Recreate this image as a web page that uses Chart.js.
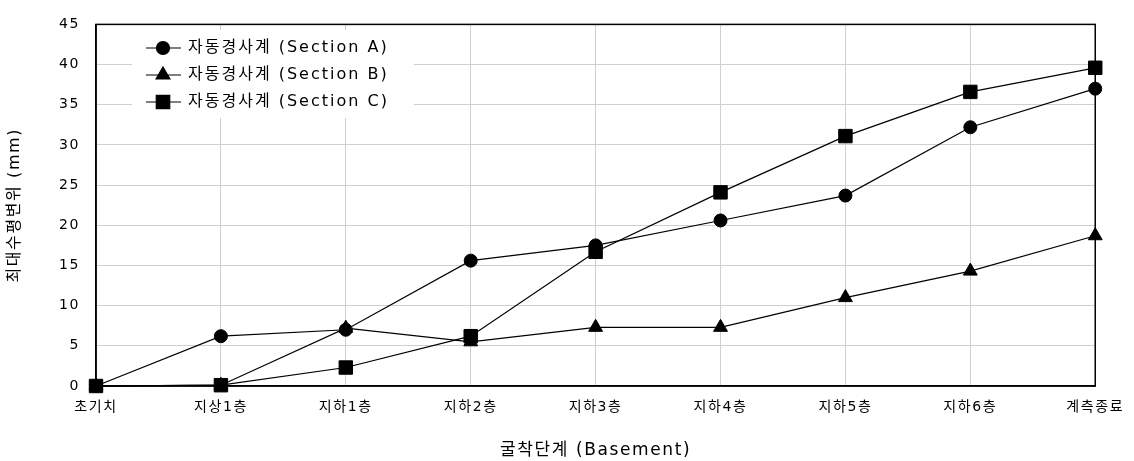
<!DOCTYPE html>
<html>
<head>
<meta charset="utf-8">
<script src="https://cdn.jsdelivr.net/npm/chart.js@4.4.1/dist/chart.umd.min.js"></script>
<style>
  html, body { margin: 0; padding: 0; background: #fff; }
  #wrap { width: 1134px; height: 461px; }
</style>
</head>
<body>
<div id="wrap"><canvas id="chart" width="1134" height="461"></canvas></div>
<script>
// data
const stages = ['초기치', '지상1층', '지하1층', '지하2층', '지하3층', '지하4층', '지하5층', '지하6층', '계측종료']
const sectionA = [0, 6.2, 7.0, 15.6, 17.5, 20.6, 23.7, 32.2, 37.0]
const sectionB = [0, 0.1, 7.2, 5.5, 7.3, 7.3, 11.0, 14.3, 18.7]
const sectionC = [0, 0.1, 2.3, 6.2, 16.7, 24.1, 31.1, 36.6, 39.6]
const seriesNames = ['자동경사계 (Section A)', '자동경사계 (Section B)', '자동경사계 (Section C)']
const yTicks = [0, 5, 10, 15, 20, 25, 30, 35, 40, 45]

const fontFamily = '"DejaVu Sans", "Noto Sans CJK KR", sans-serif'
const gridColor = '#cfcfcf'

const makeSet = (label, data, style, radius) => ({
    label: label,
    data: data,
    borderColor: '#000',
    borderWidth: 1.2,
    backgroundColor: '#000',
    pointStyle: style,
    pointRadius: radius,
    pointHoverRadius: radius,
    pointBorderWidth: 1,
    pointBorderColor: '#000',
    pointBackgroundColor: '#000',
    tension: 0,
    clip: false
})

// wide letter spacing like the original font
const spacingPlugin = {
    id: 'spacing',
    beforeInit(chart) { chart.ctx.letterSpacing = '1.6px' },
    beforeDraw(chart) { chart.ctx.letterSpacing = '1.6px' }
}

// frame round the plot area
const framePlugin = {
    id: 'frame',
    beforeDatasetsDraw(chart) {
        const { ctx, chartArea: a } = chart
        ctx.save()
        ctx.strokeStyle = '#000'
        ctx.lineWidth = 1.5
        ctx.strokeRect(a.left, a.top, a.right - a.left, a.bottom - a.top)
        ctx.restore()
    }
}

// legend inside the plot, top left, with line + marker
const insideLegend = {
    id: 'insideLegend',
    afterDatasetsDraw(chart) {
        const ctx = chart.ctx
        ctx.save()
        ctx.fillStyle = '#fff'
        ctx.fillRect(132, 30, 282, 88)
        chart.data.datasets.forEach((ds, i) => {
            const y = 48 + i * 27
            ctx.strokeStyle = '#000'
            ctx.lineWidth = 1.2
            ctx.beginPath()
            ctx.moveTo(146, y)
            ctx.lineTo(181, y)
            ctx.stroke()
            ctx.fillStyle = '#000'
            Chart.helpers.drawPoint(ctx, { pointStyle: ds.pointStyle, radius: ds.pointRadius, borderWidth: 1 }, 163, y)
            ctx.fillStyle = '#000'
            ctx.font = '16px ' + fontFamily
            ctx.letterSpacing = '2px'
            ctx.textBaseline = 'middle'
            ctx.textAlign = 'left'
            ctx.fillText(ds.label, 188, y)
        })
        ctx.restore()
    }
}

const ctx = document.getElementById('chart').getContext('2d')
const chart = new Chart(ctx, {
    type: 'line',
    data: {
        labels: stages,
        datasets: [
            makeSet(seriesNames[0], sectionA, 'circle', 6.5),
            makeSet(seriesNames[1], sectionB, 'triangle', 8),
            makeSet(seriesNames[2], sectionC, 'rect', 9.5)
        ]
    },
    plugins: [spacingPlugin, framePlugin, insideLegend],
    options: {
        responsive: false,
        animation: false,
        layout: { padding: { left: 0, right: 37, top: 12, bottom: 0 } },
        plugins: {
            legend: { display: false },
            tooltip: { enabled: false }
        },
        scales: {
            x: {
                offset: false,
                grid: { color: gridColor, drawTicks: false, lineWidth: 1 },
                border: { color: '#000', width: 1.5 },
                ticks: { color: '#000', padding: 13, maxRotation: 0, autoSkip: false, font: { family: fontFamily, size: 14 } },
                title: { display: true, text: '굴착단계 (Basement)', color: '#000', padding: { top: 17, bottom: 0 }, font: { family: fontFamily, size: 17 } },
                afterFit: (s) => { s.height = 75 }
            },
            y: {
                min: 0,
                max: 45,
                afterBuildTicks: (s) => { s.ticks = yTicks.map(v => ({ value: v })) },
                grid: { color: gridColor, drawTicks: false, lineWidth: 1 },
                border: { color: '#000', width: 1.5 },
                ticks: { color: '#000', padding: 16, font: { family: fontFamily, size: 14 } },
                title: { display: true, text: '최대수평변위 (mm)', color: '#000', padding: { top: 5, bottom: 0 }, font: { family: fontFamily, size: 16 } },
                afterFit: (s) => { s.width = 96 }
            }
        }
    }
})
</script>
</body>
</html>
